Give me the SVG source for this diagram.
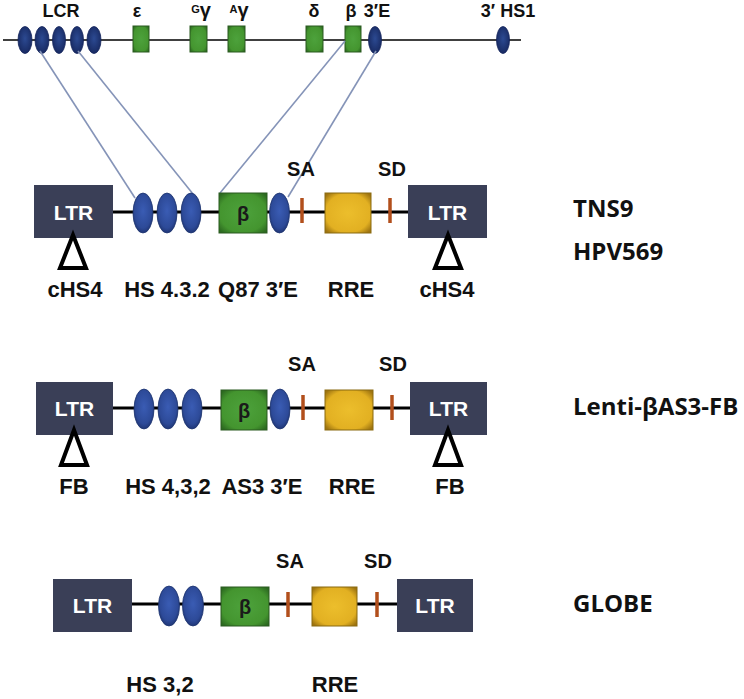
<svg xmlns="http://www.w3.org/2000/svg" width="744" height="699" viewBox="0 0 744 699">
<defs>
<radialGradient id="gBlue" cx="50%" cy="45%" r="60%">
<stop offset="0" stop-color="#3a5cb4"/><stop offset="0.7" stop-color="#2d4a98"/><stop offset="1" stop-color="#1b2f6a"/>
</radialGradient>
<radialGradient id="gNavy" cx="50%" cy="45%" r="60%">
<stop offset="0" stop-color="#2c4a92"/><stop offset="1" stop-color="#16275e"/>
</radialGradient>
<radialGradient id="gGreen" cx="50%" cy="50%" r="65%">
<stop offset="0" stop-color="#4da23c"/><stop offset="0.75" stop-color="#44952f"/><stop offset="1" stop-color="#2c6a20"/>
</radialGradient>
<radialGradient id="gYellow" cx="50%" cy="50%" r="65%">
<stop offset="0" stop-color="#ecbe2c"/><stop offset="0.75" stop-color="#e2b022"/><stop offset="1" stop-color="#9e7410"/>
</radialGradient>
<style>
.bb{stroke:#000;stroke-width:3;fill:none}
.thin{stroke:#000;stroke-width:1.6;fill:none}
.ltr{fill:#3a3f57}
.ell{fill:url(#gBlue);stroke:#203670;stroke-width:0.8}
.tell{fill:url(#gNavy);stroke:#13235a;stroke-width:0.8}
.gb{fill:url(#gGreen);stroke:#2a5a20;stroke-width:1}
.yb{fill:url(#gYellow);stroke:#8a6a10;stroke-width:1}
.tick{stroke:#b24f1c;stroke-width:3.5}
.tri{fill:#fff;stroke:#000;stroke-width:4;stroke-linejoin:miter}
.conn{stroke:#8594b8;stroke-width:1.6;fill:none}
text{font-family:"Liberation Sans",Arial,sans-serif;font-weight:bold;text-anchor:middle}
.lt{fill:#fff;font-size:21px}
.lab{fill:#111;font-size:22px}
.sa{fill:#111;font-size:20px}
.top{fill:#111;font-size:18px}
.beta{fill:#1a1a1a;font-size:20px}
.name{font-family:"Open Sans","Noto Sans",sans-serif;font-size:24px;text-anchor:start;fill:#111}
</style>
</defs>

<g id="locus">
<line class="thin" x1="3" y1="40" x2="521" y2="40"/>
<ellipse class="tell" cx="25" cy="40" rx="7" ry="13.5"/>
<ellipse class="tell" cx="42" cy="40" rx="7" ry="13.5"/>
<ellipse class="tell" cx="59" cy="40" rx="6.5" ry="13.5"/>
<ellipse class="tell" cx="77" cy="40" rx="6.5" ry="13.5"/>
<ellipse class="tell" cx="94" cy="40" rx="7" ry="13.5"/>
<rect class="gb" x="133" y="26" width="16" height="26"/>
<rect class="gb" x="190" y="26" width="17" height="26"/>
<rect class="gb" x="228" y="26" width="17" height="26"/>
<rect class="gb" x="306" y="26" width="17" height="26"/>
<rect class="gb" x="345" y="26" width="16" height="26"/>
<ellipse class="tell" cx="375" cy="40" rx="6.5" ry="13.5"/>
<ellipse class="tell" cx="503" cy="40" rx="6.5" ry="13.5"/>
<text class="top" x="61" y="17">LCR</text>
<text class="top" x="137" y="17">ε</text>
<text class="top" x="201" y="17"><tspan font-size="11" dy="-4">G</tspan><tspan font-size="20" dy="4">γ</tspan></text>
<text class="top" x="239" y="17"><tspan font-size="11" dy="-4">A</tspan><tspan font-size="20" dy="4">γ</tspan></text>
<text class="top" x="314" y="17">δ</text>
<text class="top" x="351" y="17">β</text>
<text class="top" x="377" y="17">3′E</text>
<text class="top" x="508" y="17">3′ HS1</text>
</g>

<g id="connectors">
<line class="conn" x1="40" y1="51" x2="135" y2="198"/>
<line class="conn" x1="78" y1="51" x2="193" y2="194"/>
<line class="conn" x1="345" y1="41" x2="220" y2="193"/>
<line class="conn" x1="376" y1="51" x2="288" y2="197"/>
</g>

<g id="construct-TNS9">
<line class="bb" x1="113" y1="212" x2="408" y2="212"/>
<rect class="ltr" x="34" y="185" width="79" height="53"/>
<rect class="ltr" x="408" y="185" width="79" height="53"/>
<text class="lt" x="73.5" y="220">LTR</text>
<text class="lt" x="447.5" y="220">LTR</text>
<ellipse class="ell" cx="143" cy="213" rx="10" ry="20"/>
<ellipse class="ell" cx="167" cy="213" rx="10" ry="20"/>
<ellipse class="ell" cx="191" cy="213" rx="10" ry="20"/>
<rect class="gb" x="219" y="193" width="48" height="40"/>
<text class="beta" x="243" y="221">β</text>
<ellipse class="ell" cx="279.5" cy="213" rx="10" ry="20"/>
<line class="tick" x1="302" y1="198" x2="302" y2="223"/>
<rect class="yb" x="325" y="193" width="46" height="40"/>
<line class="tick" x1="390" y1="198" x2="390" y2="223"/>
<polygon class="tri" points="73,235 60,268 86,268"/>
<polygon class="tri" points="448,235 435,268 461,268"/>
<text class="sa" x="301" y="176">SA</text>
<text class="sa" x="392" y="176">SD</text>
<text class="lab" x="75" y="297">cHS4</text>
<text class="lab" x="167" y="297">HS 4.3.2</text>
<text class="lab" x="258" y="297">Q87 3′E</text>
<text class="lab" x="351" y="297">RRE</text>
<text class="lab" x="447" y="297">cHS4</text>
<text class="name" x="573" y="217">TNS9</text>
<text class="name" x="573" y="260">HPV569</text>
</g>

<g id="construct-Lenti">
<line class="bb" x1="113" y1="408" x2="410" y2="408"/>
<rect class="ltr" x="36" y="382" width="77" height="53"/>
<rect class="ltr" x="410" y="382" width="77" height="53"/>
<text class="lt" x="74.5" y="416">LTR</text>
<text class="lt" x="448.5" y="416">LTR</text>
<ellipse class="ell" cx="144" cy="409" rx="10" ry="20"/>
<ellipse class="ell" cx="168" cy="409" rx="10" ry="20"/>
<ellipse class="ell" cx="192" cy="409" rx="10" ry="20"/>
<rect class="gb" x="221" y="390" width="46" height="40"/>
<text class="beta" x="244" y="418">β</text>
<ellipse class="ell" cx="280" cy="409" rx="10" ry="20"/>
<line class="tick" x1="303" y1="395" x2="303" y2="420"/>
<rect class="yb" x="325" y="390" width="48" height="40"/>
<line class="tick" x1="392" y1="395" x2="392" y2="420"/>
<polygon class="tri" points="74,430 61,465 87,465"/>
<polygon class="tri" points="448,430 435,465 461,465"/>
<text class="sa" x="302" y="371">SA</text>
<text class="sa" x="393" y="371">SD</text>
<text class="lab" x="74" y="494">FB</text>
<text class="lab" x="168" y="494">HS 4,3,2</text>
<text class="lab" x="262" y="494">AS3 3′E</text>
<text class="lab" x="352" y="494">RRE</text>
<text class="lab" x="450" y="494">FB</text>
<text class="name" x="573" y="415">Lenti-βAS3-FB</text>
</g>

<g id="construct-GLOBE">
<line class="bb" x1="132" y1="604" x2="397" y2="604"/>
<rect class="ltr" x="53" y="579" width="79" height="53"/>
<rect class="ltr" x="397" y="579" width="76" height="53"/>
<text class="lt" x="92.5" y="613">LTR</text>
<text class="lt" x="435" y="613">LTR</text>
<ellipse class="ell" cx="169" cy="606" rx="10.5" ry="20"/>
<ellipse class="ell" cx="193" cy="606" rx="10.5" ry="20"/>
<rect class="gb" x="221" y="587" width="48" height="39"/>
<text class="beta" x="245" y="614">β</text>
<line class="tick" x1="288" y1="592" x2="288" y2="617"/>
<rect class="yb" x="312" y="587" width="45" height="39"/>
<line class="tick" x1="377" y1="592" x2="377" y2="617"/>
<text class="sa" x="290" y="568">SA</text>
<text class="sa" x="378" y="568">SD</text>
<text class="lab" x="160" y="692">HS 3,2</text>
<text class="lab" x="335" y="692">RRE</text>
<text class="name" x="573" y="612">GLOBE</text>
</g>
</svg>
